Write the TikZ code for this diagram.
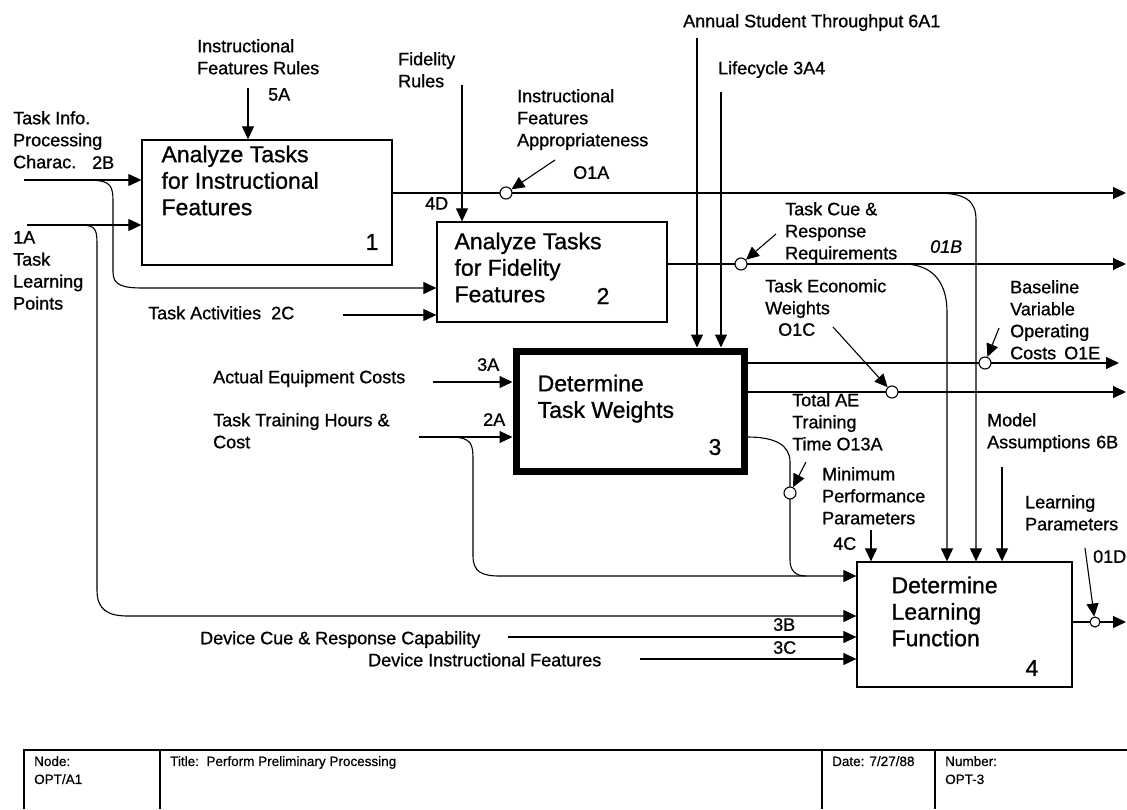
\documentclass[tikz,border=0pt]{standalone}
\usepackage{fontspec}
\setmainfont{Liberation Sans}[FakeBold=0.9]
\newfontfamily\tbfamily[FakeBold=0.6]{Liberation Sans}
\usetikzlibrary{arrows.meta}

\newcommand\labfont{\fontsize{18}{22}\selectfont}
\newcommand\boxfont{\fontsize{23}{26.5}\selectfont}
\newcommand\tbfont{\tbfamily\fontsize{13.5}{14}\selectfont}

\begin{document}
\begin{tikzpicture}[x=1pt,y=-1pt,
  every node/.style={inner sep=0pt},
  box/.style={draw, line width=1.3pt},
  hbox/.style={draw, line width=7pt},
  btxt/.style={font=\boxfont, anchor=north west, align=left},
  bnum/.style={font=\boxfont},
  lab/.style={font=\labfont, anchor=north west, align=left},
  tbtxt/.style={font=\tbfont, anchor=north west, align=left},
  wire/.style={line width=1.1pt},
  flow/.style={wire, -{Triangle[length=13pt,width=12pt]}},
  tun/.style={circle, draw, line width=1.1pt, minimum size=12pt, fill=white},
]
\useasboundingbox (0,0) rectangle (1127,809);

% activity boxes
\node[box,  minimum width=250, minimum height=125] (b1) at (267,202.5) {};
\node[box,  minimum width=230, minimum height=100] (b2) at (552,272) {};
\node[hbox, minimum width=228, minimum height=120] (b3) at (630,411) {};
\node[box,  minimum width=215, minimum height=125] (b4) at (964.5,624.5) {};

\node[btxt] (b1t) at ([shift={(20,6)}]b1.north west) {Analyze Tasks\\for Instructional\\Features};
\node[btxt] (b2t) at ([shift={(18,11)}]b2.north west) {Analyze Tasks\\for Fidelity\\Features};
\node[btxt] (b3t) at ([shift={(25,27)}]b3.north west) {Determine\\Task Weights};
\node[btxt] (b4t) at ([shift={(35,15)}]b4.north west) {Determine\\Learning\\Function};
\node[bnum] (b1n) at (372,242) {1};
\node[bnum] (b2n) at (603,296) {2};
\node[bnum] (b3n) at (715,447) {3};
\node[bnum] (b4n) at (1032,668) {4};

% inputs and controls of box 1
\coordinate (c5A) at (248,88);
\draw[flow] (c5A) -- (c5A |- b1.north);
\coordinate (i2B) at (24,180);
\coordinate (i1A) at (27,225);
\draw[flow] (i2B) -- (i2B -| b1.west);
\draw[flow] (i1A) -- (i1A -| b1.west);

% 2B also feeds box 2
\coordinate (s2B) at (86,180);
\coordinate (k2B) at (143,288);
\draw[flow] (s2B) .. controls (113,180) and (113,186) .. (113,205) -- (113,272)
  .. controls (113,285) and (122,288) .. (k2B) -- (k2B -| b2.west);

% 1A also feeds box 4
\coordinate (s1A) at (80,225);
\coordinate (k1A) at (128,616);
\draw[flow] (s1A) .. controls (97,225) and (97,230) .. (97,248) -- (97,590)
  .. controls (97,610) and (108,616) .. (k1A) -- (k1A -| b4.west);

% box 2 inputs and controls
\coordinate (i2C) at (343,315);
\draw[flow] (i2C) -- (i2C -| b2.west);
\coordinate (cFR) at (462,85);
\draw[flow] (cFR) -- (cFR |- b2.north);

% box 1 output 4D
\coordinate (o4D) at (1126,193);
\draw[flow] (b1.east |- o4D) -- (o4D);
\coordinate (s4D) at (935,193);
\coordinate (k4D) at (976,220);
\draw[flow] (s4D) .. controls (965,193) and (976,200) .. (k4D) -- (k4D |- b4.north);
\node[tun] (t1A) at (506,193) {};
\coordinate (p1A) at (555,160);
\draw[flow] (p1A) -- (t1A);

% box 2 output
\coordinate (o1B) at (1126,264);
\draw[flow] (b2.east |- o1B) -- (o1B);
\coordinate (s1B) at (905,264);
\coordinate (k1B) at (947,312);
\draw[flow] (s1B) .. controls (935,265) and (947,285) .. (k1B) -- (k1B |- b4.north);
\node[tun] (t1B) at (741,264) {};
\coordinate (p1B) at (776,234);
\draw[flow] (p1B) -- (t1B);

% box 3 controls
\coordinate (cAST) at (697,38);
\coordinate (cLC) at (721,92);
\draw[flow] (cAST) -- (cAST |- b3.north);
\draw[flow] (cLC) -- (cLC |- b3.north);

% box 3 inputs
\coordinate (i3A) at (433,382);
\draw[flow] (i3A) -- (i3A -| b3.west);
\coordinate (i2A) at (419,437);
\draw[flow] (i2A) -- (i2A -| b3.west);
\coordinate (s2A) at (450,437);
\coordinate (k2A) at (500,576);
\draw[flow] (s2A) .. controls (473,437) and (473,445) .. (473,462) -- (473,556)
  .. controls (473,572) and (482,576) .. (k2A) -- (k2A -| b4.west);

% box 3 outputs
\coordinate (o1E) at (1119,363);
\draw[flow] (b3.east |- o1E) -- (o1E);
\node[tun] (t1E) at (985,363) {};
\coordinate (p1E) at (999,328);
\draw[flow] (p1E) -- (t1E);
\coordinate (o1C) at (1126,392);
\draw[flow] (b3.east |- o1C) -- (o1C);
\node[tun] (t1C) at (892,392) {};
\coordinate (p1C) at (833,327);
\draw[flow] (p1C) -- (t1C);
\coordinate (k13) at (806,576);
\draw[wire] (b3.east |- i2A) .. controls (775,437) and (790,445) .. (790,462) -- (790,560)
  .. controls (790,570) and (795,576) .. (k13);
\node[tun] (t13A) at (790,493) {};
\coordinate (p13A) at (806,462);
\draw[flow] (p13A) -- (t13A);

% box 4 controls and inputs
\coordinate (c4C) at (871,530);
\draw[flow] (c4C) -- (c4C |- b4.north);
\coordinate (c6B) at (1002,467);
\draw[flow] (c6B) -- (c6B |- b4.north);
\coordinate (i3B) at (508,637);
\draw[flow] (i3B) -- (i3B -| b4.west);
\coordinate (i3C) at (640,659);
\draw[flow] (i3C) -- (i3C -| b4.west);

% box 4 output
\coordinate (o1D) at (1126,622);
\draw[flow] (b4.east |- o1D) -- (o1D);
\node[tun, minimum size=10pt] (t1D) at (1095,622) {};
\coordinate (p1D) at (1085,548);
\draw[flow] (p1D) -- (t1D);

% arrow labels
\node[lab] (lIFR) at (197,39) {Instructional\\Features Rules};
\node[lab] (l5A) at (268,88) {5A};
\node[lab] (lTIP) at (13,111) {Task Info.\\Processing\\Charac.};
\node[lab] (l2B) at (92,156) {2B};
\node[lab] (l1A) at (13,231) {1A\\Task\\Learning\\Points};
\node[lab] (l2C) at (148,306) {Task Activities\hspace{10pt}2C};
\node[lab] (lFR) at (398,52) {Fidelity\\Rules};
\node[lab] (lIFA) at (517,89) {Instructional\\Features\\Appropriateness};
\node[lab] (lO1A) at (573,166) {O1A};
\node[lab] (l4D) at (425,197) {4D};
\node[lab] (lAST) at (683,14) {Annual Student Throughput 6A1};
\node[lab] (lLC) at (718,61) {Lifecycle 3A4};
\node[lab] (lTCR) at (785,202) {Task Cue \&\\Response\\Requirements};
\node[lab] (lO1B) at (930,240) {\itshape 01B};
\node[lab] (lTEW) at (765,279) {Task Economic\\Weights};
\node[lab] (lO1C) at (778,323) {O1C};
\node[lab] (lBVO) at (1010,280) {Baseline\\Variable\\Operating\\Costs\hspace{8pt}O1E};
\node[lab] (lAEC) at (213,370) {Actual Equipment Costs};
\node[lab] (l3A) at (477,358) {3A};
\node[lab] (lTTH) at (213,413) {Task Training Hours \&\\Cost};
\node[lab] (l2A) at (483,413) {2A};
\node[lab] (lTAE) at (792,393) {Total AE\\Training\\Time O13A};
\node[lab] (lMPP) at (822,467) {Minimum\\Performance\\Parameters};
\node[lab] (l4C) at (833,537) {4C};
\node[lab] (lMA) at (987,413) {Model\\Assumptions\hspace{6pt}6B};
\node[lab] (lLP) at (1025,495) {Learning\\Parameters};
\node[lab] (lO1D) at (1093,550) {01D};
\node[lab] (lDCR) at (200,631) {Device Cue \& Response Capability};
\node[lab] (l3B) at (773,618) {3B};
\node[lab] (l3C) at (773,641) {3C};
\node[lab] (lDIF) at (368,653) {Device Instructional Features};

% title block
\draw[wire] (24,809) -- (24,750) -- (1127,750);
\draw[wire] (160,750) -- (160,809);
\draw[wire] (822,750) -- (822,809);
\draw[wire] (935,750) -- (935,809);
\node[tbtxt] (tbN) at (34,756) {Node:\\[4pt]OPT/A1};
\node[tbtxt] (tbT) at (170,756) {Title:\ \ Perform Preliminary Processing};
\node[tbtxt] (tbD) at (832,756) {Date: 7/27/88};
\node[tbtxt] (tbU) at (945,756) {Number:\\[4pt]OPT-3};
\end{tikzpicture}
\end{document}
